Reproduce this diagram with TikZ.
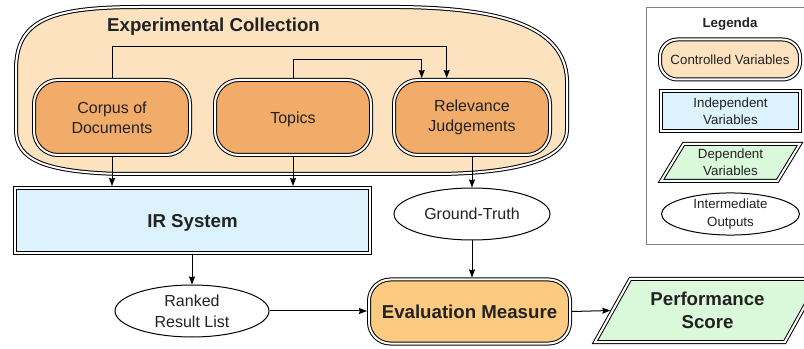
\documentclass[tikz,border=0pt]{standalone}
\usepackage{fontspec}
\setmainfont{Liberation Sans}
\usetikzlibrary{shapes.geometric,arrows.meta}
\definecolor{peach}{HTML}{FDE2C0}
\definecolor{darkorange}{HTML}{F0AC68}
\definecolor{evalorange}{HTML}{FCCA80}
\definecolor{lightblue}{HTML}{DCF2FD}
\definecolor{lightgreen}{HTML}{DAF8DA}
\definecolor{txt}{HTML}{222222}
\definecolor{legendgray}{HTML}{808080}
\tikzset{
  dbl/.style={draw=black, line width=0.75pt, double=white, double distance=1.5pt, outer sep=1.5pt, inner sep=0pt, align=center, text=txt},
  ctrlbox/.style={dbl, rounded corners=18pt, fill=darkorange, minimum width=117pt, minimum height=56.25pt, font=\fontsize{12}{15}\selectfont},
  indepbox/.style={dbl, fill=lightblue},
  depbox/.style={dbl, trapezium, trapezium stretches=true, fill=lightgreen},
  interm/.style={ellipse, draw=black, line width=0.75pt, fill=white, inner sep=0pt, align=center, text=txt},
  arr/.style={line width=0.75pt, -{Stealth[length=6pt,width=4.5pt,inset=0.6pt]}},
  bigtxt/.style={font=\fontsize{14}{17.5}\selectfont\bfseries},
  midtxt/.style={font=\fontsize{12}{15.5}\selectfont},
  smalltxt/.style={font=\fontsize{10}{13}\selectfont},
  nodepth/.style={text depth=0pt}
}
\begin{document}
\begin{tikzpicture}[x=0.75pt,y=-0.75pt]
\clip (0,0) rectangle (804,349);
\fill[white] (0,0) rectangle (804,349);

% Experimental collection container
\draw[fill=peach, line width=0.75pt, double=white, double distance=1.5pt]
  (16,70) .. controls (16,20) and (50,7) .. (140,7)
  -- (400,7) .. controls (490,8) and (565,22) .. (567,80)
  -- (567,130) .. controls (567,160) and (515,173) .. (440,174)
  -- (120,174) .. controls (45,172) and (16,160) .. (16,130) -- cycle;
\node[bigtxt, nodepth, text=txt] (ectitle) at (213.5,24.5) {Experimental Collection};

% controlled variable nodes
\node[ctrlbox] (corpus) at (112,117.5) {Corpus of\\Documents};
\node[ctrlbox, nodepth] (topics) at (293,117.5) {Topics};
\node[ctrlbox] (rel) at (472,117.5) {Relevance\\Judgements};

% IR system
\node[indepbox, bigtxt, nodepth, minimum width=266.25pt, minimum height=48.75pt] (ir) at (192.5,220.5) {IR System};

% intermediate outputs
\node[interm, midtxt, minimum width=115.5pt, minimum height=39pt] (ranked) at (192,311) {Ranked\\Result List};
\node[interm, midtxt, nodepth, minimum width=117pt, minimum height=39pt] (gt) at (472,214) {Ground-Truth};

% evaluation measure
\node[dbl, bigtxt, rounded corners=16pt, fill=evalorange, minimum width=150.75pt, minimum height=48pt] (eval) at (469.5,311.5) {Evaluation Measure};

% performance score
\node[depbox, bigtxt, trapezium left angle=55, trapezium right angle=125, minimum width=168.75pt, minimum height=47.25pt] (perf) at (707.5,310.5) {Performance\\Score};

% connectors
\coordinate (j1) at (446.7,47);
\coordinate (j2) at (421.7,60);
\draw[arr] (corpus.north) |- (j1) -- (j1 |- rel.north);
\draw[arr] (topics.north) |- (j2) -- (j2 |- rel.north);
\draw[arr] (corpus.south) -- (corpus.south |- ir.north);
\draw[arr] (topics.south) -- (topics.south |- ir.north);
\draw[arr] (ranked.north |- ir.south) -- (ranked.north);
\draw[arr] (rel.south) -- (gt.north);
\draw[arr] (gt.south) -- (gt.south |- eval.north);
\draw[arr] (ranked.east) -- (ranked.east -| eval.west);
\draw[arr] (eval.east) -- (perf.west);

% legend
\draw[legendgray, line width=0.75pt] (646,8) rectangle (806,245);
\node[font=\fontsize{10}{12}\selectfont\bfseries, nodepth, text=txt] (legtitle) at (730,22.5) {Legenda};
\node[dbl, smalltxt, rounded corners=13pt, fill=peach, minimum width=105pt, minimum height=30pt] (lgctrl) at (730,59.5) {Controlled Variables};
\node[indepbox, smalltxt, minimum width=104.25pt, minimum height=30pt] (lgind) at (730.5,111) {Independent\\Variables};
\node[depbox, smalltxt, trapezium left angle=60, trapezium right angle=120, minimum width=104.25pt, minimum height=27.75pt] (lgdep) at (730.5,162.5) {Dependent\\Variables};
\node[interm, smalltxt, minimum width=103.5pt, minimum height=30pt] (lgint) at (730.5,214) {Intermediate\\Outputs};
\end{tikzpicture}
\end{document}
